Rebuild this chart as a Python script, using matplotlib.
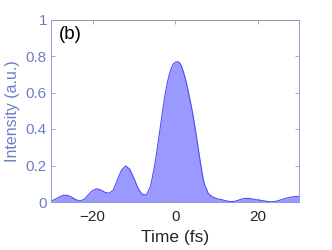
import numpy as np
import matplotlib
matplotlib.use('Agg')
import matplotlib.pyplot as plt

plt.rcParams['font.family'] = ['Liberation Sans', 'DejaVu Sans']

# values: 1 fs steps, 0.5 fs steps around the main peak
time_fs = np.concatenate([np.arange(-30, -6), np.arange(-6, 7.5, 0.5), np.arange(8, 31)])
intensity = [0.005, 0.015, 0.028, 0.037, 0.036, 0.026, 0.012, 0.006, 0.015, 0.040,
             0.063, 0.072, 0.066, 0.053, 0.048, 0.065, 0.120, 0.175, 0.197, 0.180,
             0.130, 0.075, 0.042, 0.038,
             0.085, 0.140, 0.200, 0.270, 0.350, 0.430, 0.510, 0.585, 0.645, 0.695,
             0.732, 0.755, 0.766, 0.769, 0.764, 0.745, 0.710, 0.670, 0.620, 0.565,
             0.510, 0.445, 0.375, 0.300, 0.225, 0.155, 0.100,
             0.045, 0.028, 0.018, 0.014, 0.008, 0.003, 0.002, 0.008, 0.016, 0.020,
             0.019, 0.015, 0.011, 0.008, 0.004, 0.001, 0.002, 0.008, 0.015, 0.022,
             0.027, 0.030, 0.031]
xticks = [-20, 0, 20]
yticks = [0, 0.2, 0.4, 0.6, 0.8, 1]
ytick_labels = ['0', '0.2', '0.4', '0.6', '0.8', '1']

axis_blue = '#6e7ec6'
spine_blue = '#8e9ad8'

fig = plt.figure(figsize=(3.32, 2.5), dpi=100)
ax = fig.add_axes([0.154, 0.192, 0.748, 0.73])

ax.fill_between(time_fs, intensity, 0, color='#9999ff', lw=0)
ax.plot(time_fs, intensity, color='#5050f0', lw=0.8)

ax.set_xlim(-30, 30)
ax.set_ylim(0, 1)
ax.set_xticks(xticks)
ax.set_yticks(yticks)
ax.set_yticklabels(ytick_labels)

ax.tick_params(direction='in', length=3, width=0.6, top=True, right=True, labelsize=11)
ax.tick_params(axis='x', colors='#9a9a9a', labelcolor='#262626', pad=6)
ax.tick_params(axis='y', colors=spine_blue, labelcolor=axis_blue, pad=3)

ax.spines['left'].set_color(spine_blue)
ax.spines['right'].set_color(spine_blue)
ax.spines['top'].set_color('#9a9a9a')
ax.spines['bottom'].set_color(spine_blue)
for s in ax.spines.values():
    s.set_linewidth(0.7)

ax.set_xlabel('Time (fs)', fontsize=12.5, color='#262626', labelpad=4)
ax.set_ylabel('Intensity (a.u.)', fontsize=11.5, color=axis_blue, labelpad=4)
ax.text(0.03, 0.965, '(b)', transform=ax.transAxes, fontsize=13.5, va='top', ha='left')

fig.savefig('out.png', dpi=100)
